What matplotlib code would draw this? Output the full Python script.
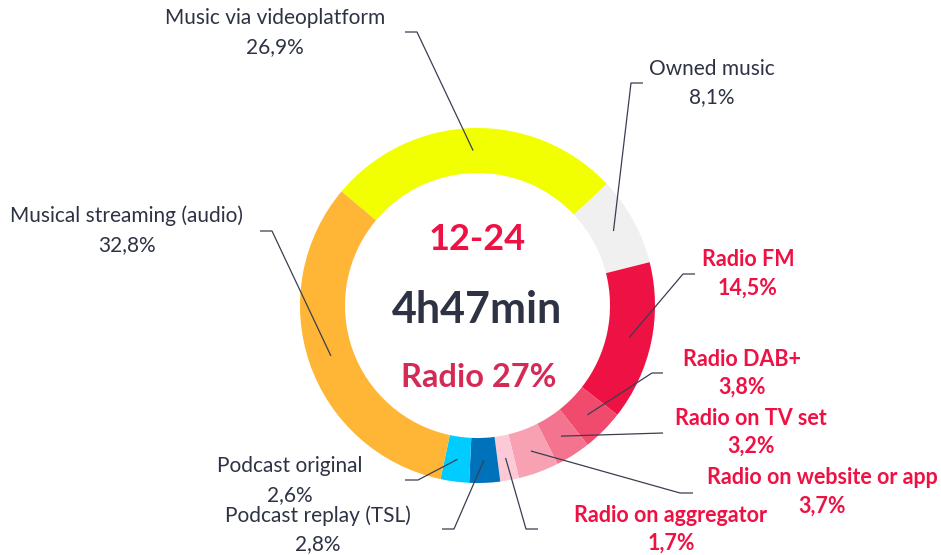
import numpy as np
import matplotlib.pyplot as plt

# ---- data ----
labels = ["Music via videoplatform", "Owned music", "Radio FM", "Radio DAB+",
          "Radio on TV set", "Radio on website or app", "Radio on aggregator",
          "Podcast replay (TSL)", "Podcast original", "Musical streaming (audio)"]
shares = [26.9, 8.1, 14.5, 3.8, 3.2, 3.7, 1.7, 2.8, 2.6, 32.8]
share_text = ["26,9%", "8,1%", "14,5%", "3,8%", "3,2%", "3,7%", "1,7%",
              "2,8%", "2,6%", "32,8%"]
is_radio = [False, False, True, True, True, True, True, False, False, False]
colors = ["#F2FF00", "#F0F0F0", "#EE1144", "#F04B6C", "#F4738E", "#F7A1B3",
          "#FBCAD6", "#0072BC", "#00CCFF", "#FFB536"]

# label layout in pixels: text centre x, name baseline, value baseline,
# elbow (x at text end, x at corner, y)
text_x = [275, 712, 748, 742, 751, 822, 671, 318, 290, 127]
name_y = [24.5, 75, 266, 366, 425, 484, 521.5, 522, 471.5, 222.5]
val_y = [53, 103, 295, 394, 453, 513, 550, 550, 501, 251.5]
elbows = [(405, 417, 32), (643, 631, 83), (695, 683, 274), (663, 652, 373),
          (663, 663, 433), (693, 680, 493), (538, 526, 529), (442, 454, 529),
          (405, 418, 480), (260, 272, 231)]

W, H = 941, 555
cx, cy = 477.5, 305.5
r_out, ring = 177.5, 45
start = 140

dark = "#2E3344"
red = "#EE1144"
line_c = "#3A3F4F"

fig = plt.figure(figsize=(W / 100, H / 100), dpi=100)
ax = fig.add_axes([0, 0, 1, 1])

wedges, _ = ax.pie(shares, colors=colors, startangle=start, counterclock=False,
                   radius=r_out, center=(cx, H - cy),
                   wedgeprops=dict(width=ring, linewidth=0))

ax.set_xlim(0, W)
ax.set_ylim(0, H)
ax.set_aspect('equal')
ax.axis('off')

r_mid = r_out - ring / 2
for i, w in enumerate(wedges):
    mid = np.deg2rad((w.theta1 + w.theta2) / 2)
    px = cx + r_mid * np.cos(mid)
    py = cy - r_mid * np.sin(mid)
    x0, x1, ye = elbows[i]
    ax.plot([x0, x1, px], [H - ye, H - ye, H - py], color=line_c, lw=0.9,
            solid_capstyle='butt', zorder=5)
    if is_radio[i]:
        kw = dict(color=red, fontweight='bold', fontsize=15.5)
    else:
        kw = dict(color=dark, fontsize=15)
    ax.text(text_x[i], H - name_y[i], labels[i], ha='center', va='baseline',
            family='Lato', **kw)
    ax.text(text_x[i], H - val_y[i], share_text[i], ha='center', va='baseline',
            family='Lato', **kw)

# centre texts
ax.text(cx, H - 250, "12-24", ha='center', va='baseline', fontsize=26,
        fontweight='bold', color=red, family='Lato')
ax.text(cx, H - 323, "4h47min", ha='center', va='baseline', fontsize=31,
        fontweight='bold', color=dark, family='Lato')
ax.text(cx + 1, H - 387, "Radio 27%", ha='center', va='baseline', fontsize=23.5,
        fontweight='bold', color="#D42A55", family='Lato')

fig.savefig("out.png", dpi=100)
